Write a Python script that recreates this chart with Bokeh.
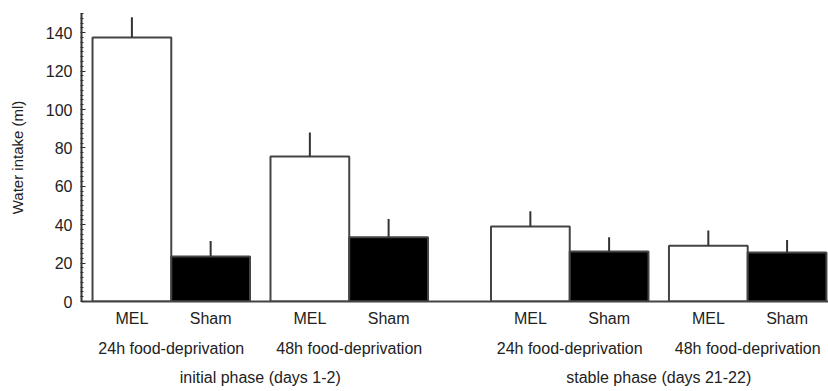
from bokeh.plotting import figure
from bokeh.models import Range1d, LinearAxis, FixedTicker, SingleIntervalTicker, ColumnDataSource
from bokeh.embed import file_html
from bokeh.resources import INLINE

# ---- data ----
groups = ["MEL", "Sham", "MEL", "Sham", "MEL", "Sham", "MEL", "Sham"]
deprivation = ["24h food-deprivation", "48h food-deprivation",
               "24h food-deprivation", "48h food-deprivation"]
phases = ["initial phase (days 1-2)", "stable phase (days 21-22)"]
means = [137.5, 23.5, 75.5, 33.5, 39, 26, 29, 25.5]
sems = [10.5, 8, 12.5, 9.5, 8, 7.5, 8, 6.5]
y_label = "Water intake (ml)"

# ---- layout of categories on x (bars touch within a deprivation pair) ----
BAR_W = 1.0
SUB_GAP = 0.26
PHASE_GAP = 0.8
centers = []
pos = 0.0
for i in range(len(groups)):
    if i > 0:
        if i % 4 == 0:
            pos += PHASE_GAP
        elif i % 2 == 0:
            pos += SUB_GAP
    centers.append(pos + BAR_W / 2)
    pos += BAR_W
dep_centers = [(centers[2 * k] + centers[2 * k + 1]) / 2 for k in range(len(deprivation))]
phase_centers = [sum(centers[4 * k:4 * k + 4]) / 4 for k in range(len(phases))]

src = ColumnDataSource(dict(
    x=centers,
    top=means,
    err=[m + s for m, s in zip(means, sems)],
    fill=["white" if g == "MEL" else "black" for g in groups],
))

FONT = "Liberation Sans"
TXT = "#222222"

p = figure(width=828, height=391, output_backend="svg", toolbar_location=None,
           x_range=Range1d(-0.14, 9.346), y_range=Range1d(0, 150),
           min_border_left=81, min_border_right=0, min_border_top=13, min_border_bottom=90)
p.outline_line_color = None
p.xgrid.visible = False
p.ygrid.visible = False

p.vbar(x="x", top="top", bottom=0, width=BAR_W, fill_color="fill",
       line_color="#444444", line_width=2, source=src)
p.segment(x0="x", y0="top", x1="x", y1="err", line_color="#333333", line_width=2, source=src)

# y axis
ya = p.yaxis[0]
ya.ticker = SingleIntervalTicker(interval=20, num_minor_ticks=8)
ya.axis_line_width = 2
ya.axis_line_color = "#333333"
ya.major_tick_in = 4
ya.major_tick_out = 0
ya.major_tick_line_color = "#333333"
ya.minor_tick_in = 2
ya.minor_tick_out = 1
ya.minor_tick_line_color = "#333333"
ya.major_label_text_font = FONT
ya.major_label_text_font_size = "16px"
ya.major_label_text_color = TXT
ya.major_label_standoff = 8
ya.axis_label = y_label
ya.axis_label_text_font = FONT
ya.axis_label_text_font_size = "15px"
ya.axis_label_text_font_style = "normal"
ya.axis_label_text_color = TXT
ya.axis_label_standoff = 17

# x axis: MEL / Sham
xa = p.xaxis[0]
xa.ticker = FixedTicker(ticks=centers)
xa.major_label_overrides = {c: g for c, g in zip(centers, groups)}
xa.axis_line_width = 2
xa.axis_line_color = "#444444"
xa.major_tick_line_color = None
xa.minor_tick_line_color = None
xa.major_label_text_font = FONT
xa.major_label_text_font_size = "16px"
xa.major_label_text_color = TXT
xa.major_label_standoff = 2

# second row: deprivation
ax2 = LinearAxis(ticker=FixedTicker(ticks=dep_centers),
                 major_label_overrides={c: d for c, d in zip(dep_centers, deprivation)})
# third row: phase
ax3 = LinearAxis(ticker=FixedTicker(ticks=phase_centers),
                 major_label_overrides={c: t for c, t in zip(phase_centers, phases)})
for ax, so in ((ax2, 4), (ax3, 3)):
    ax.axis_line_color = None
    ax.major_tick_line_color = None
    ax.minor_tick_line_color = None
    ax.major_label_text_font = FONT
    ax.major_label_text_font_size = "16px"
    ax.major_label_text_color = TXT
    ax.major_label_standoff = so
    p.add_layout(ax, "below")

open("out.html", "w").write(file_html(p, INLINE))
